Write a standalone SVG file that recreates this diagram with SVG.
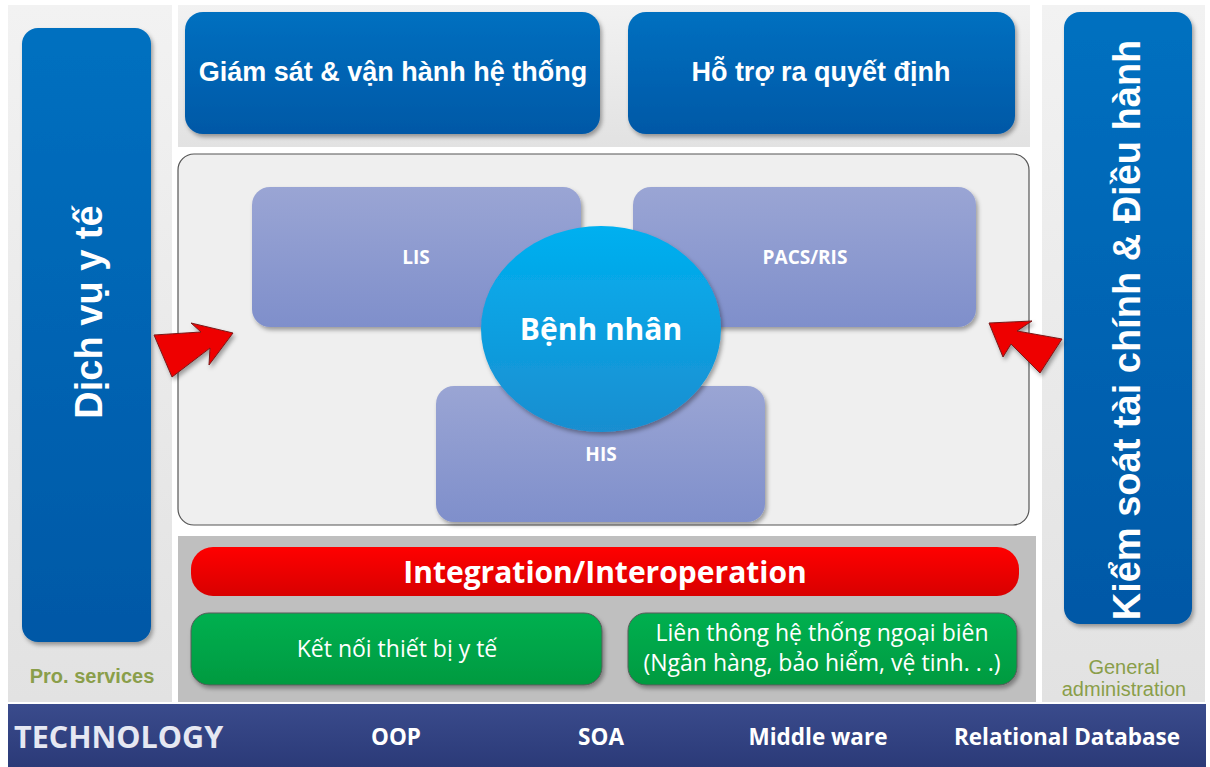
<svg xmlns="http://www.w3.org/2000/svg" width="1210" height="767" viewBox="0 0 1210 767">
<defs>
<linearGradient id="gPanel" x1="0" y1="0" x2="0" y2="1"><stop offset="0" stop-color="#f2f2f2"/><stop offset="1" stop-color="#e2e2e2"/></linearGradient>
<linearGradient id="gBlue" x1="0" y1="0" x2="0" y2="1"><stop offset="0" stop-color="#0070c0"/><stop offset="1" stop-color="#0058a6"/></linearGradient>
<linearGradient id="gPurple" x1="0" y1="0" x2="0" y2="1"><stop offset="0" stop-color="#9aa5d4"/><stop offset="1" stop-color="#7f8fcb"/></linearGradient>
<linearGradient id="gCircle" x1="0" y1="0" x2="0" y2="1"><stop offset="0" stop-color="#00b0f0"/><stop offset="1" stop-color="#1a8ed0"/></linearGradient>
<linearGradient id="gRed" x1="0" y1="0" x2="0" y2="1"><stop offset="0" stop-color="#ff0000"/><stop offset="1" stop-color="#d80000"/></linearGradient>
<linearGradient id="gGreen" x1="0" y1="0" x2="0" y2="1"><stop offset="0" stop-color="#00b050"/><stop offset="1" stop-color="#009a40"/></linearGradient>
<linearGradient id="gTech" x1="0" y1="0" x2="0" y2="1"><stop offset="0" stop-color="#3a4b8c"/><stop offset="1" stop-color="#2b3a78"/></linearGradient>
<filter id="sh" x="-10%" y="-10%" width="120%" height="130%"><feDropShadow dx="2" dy="3" stdDeviation="2" flood-color="#000" flood-opacity="0.35"/></filter>
</defs>
<style>
.panel{fill:url(#gPanel)}
.blue{fill:url(#gBlue);filter:url(#sh)}
.purple{fill:url(#gPurple);filter:url(#sh)}
.green{fill:url(#gGreen);stroke:#5a5a5a;stroke-width:1;filter:url(#sh)}
.arrow{fill:#ee0000;stroke:#7a1a1a;stroke-width:1;filter:url(#sh)}
.tw{fill:#ffffff;font-family:"Liberation Sans",Arial,sans-serif;font-weight:bold;text-anchor:middle}
.to{fill:#ffffff;font-family:"Open Sans","Noto Sans",sans-serif;font-weight:bold;text-anchor:middle}
.tg{fill:#ffffff;font-family:"Open Sans","Noto Sans",sans-serif;font-size:23px;text-anchor:middle}
.tech{fill:#ffffff;font-family:"Open Sans","Noto Sans",sans-serif;font-weight:bold;font-size:22.5px;text-anchor:middle}
.lbl{fill:#8a9e4a;font-family:"Liberation Sans",Arial,sans-serif;font-size:20px;text-anchor:middle}
</style>
<rect width="1210" height="767" fill="#ffffff"/>
<!-- background panels -->
<rect x="8" y="5" width="164" height="697" class="panel"/>
<rect x="178" y="5" width="852" height="142" class="panel"/>
<rect x="1042" y="5" width="163" height="697" class="panel"/>
<rect x="178" y="154" width="851" height="371" rx="16" fill="#efefef" stroke="#555" stroke-width="1.2"/>
<rect x="178" y="536" width="858" height="166" fill="#bfbfbf"/>

<g id="dich-vu">
<rect x="22" y="28" width="129" height="614" rx="16" class="blue"/>
<text class="tw" font-size="38" transform="translate(102,312) rotate(-90)">Dịch vụ y tế</text>
</g>
<g id="kiem-soat">
<rect x="1064" y="12" width="128" height="612" rx="16" class="blue"/>
<text class="tw" font-size="38" transform="translate(1140,330) rotate(-90)">Kiểm soát tài chính &amp; Điều hành</text>
</g>
<g id="giam-sat">
<rect x="185" y="12" width="415" height="122" rx="18" class="blue"/>
<text class="tw" font-size="27" x="393" y="81">Giám sát &amp; vận hành hệ thống</text>
</g>
<g id="ho-tro">
<rect x="628" y="12" width="387" height="122" rx="18" class="blue"/>
<text class="tw" font-size="27" x="821" y="81">Hỗ trợ ra quyết định</text>
</g>
<g id="lis">
<rect x="252" y="187" width="329" height="140" rx="18" class="purple"/>
<text class="to" font-size="19" x="416" y="264">LIS</text>
</g>
<g id="pacs">
<rect x="633" y="187" width="343" height="140" rx="18" class="purple"/>
<text class="to" font-size="19" x="805" y="264">PACS/RIS</text>
</g>
<g id="his">
<rect x="436" y="386" width="329" height="136" rx="18" class="purple"/>
<text class="to" font-size="19" x="601" y="461">HIS</text>
</g>
<g id="benh-nhan">
<ellipse cx="601" cy="329" rx="120" ry="103" fill="url(#gCircle)" filter="url(#sh)"/>
<text class="to" font-size="30" x="601" y="340">Bệnh nhân</text>
</g>
<g id="integration">
<rect x="191" y="547" width="828" height="49" rx="22" fill="url(#gRed)"/>
<text class="to" font-size="30" x="605" y="583">Integration/Interoperation</text>
</g>
<g id="ket-noi">
<rect x="191" y="613" width="411" height="72" rx="18" class="green"/>
<text class="tg" x="397" y="657">Kết nối thiết bị y tế</text>
</g>
<g id="lien-thong">
<rect x="628" y="613" width="389" height="72" rx="18" class="green"/>
<text class="tg" x="822" y="641">Liên thông hệ thống ngoại biên</text>
<text class="tg" x="822" y="671">(Ngân hàng, bảo hiểm, vệ tinh. . .)</text>
</g>
<g id="labels">
<text class="lbl" x="92" y="683" font-weight="bold">Pro. services</text>
<text class="lbl" x="1124" y="674">General</text>
<text class="lbl" x="1124" y="696">administration</text>
</g>
<g id="technology">
<rect x="8" y="704" width="1198" height="63" fill="url(#gTech)"/>
<text x="14" y="748" fill="#e6e8f2" font-family="Open Sans,Noto Sans,sans-serif" font-weight="bold" font-size="30.5">TECHNOLOGY</text>
<text class="tech" x="396" y="745">OOP</text>
<text class="tech" x="601" y="745">SOA</text>
<text class="tech" x="818" y="745">Middle ware</text>
<text class="tech" x="1067" y="745">Relational Database</text>
</g>
<g id="connectors">
<polygon class="arrow" points="154,335 201,332 191,323 233,333 209,365 210,348 172,377"/>
<polygon class="arrow" points="989,323 1032,321 1017,331 1062,339 1040,373 1011,344 1003,357"/>
</g>
</svg>
